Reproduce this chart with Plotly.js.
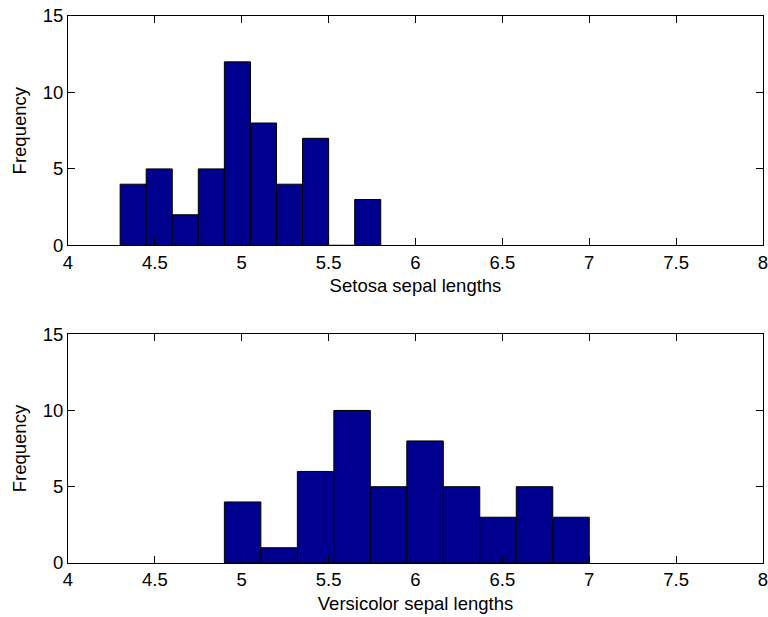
<!DOCTYPE html>
<html>
<head>
<meta charset="utf-8">
<script src="https://cdn.plot.ly/plotly-3.0.1.min.js"></script>
<style>html,body{margin:0;padding:0;background:#fff;}#chart{width:768px;height:617px;}</style>
</head>
<body>
<div id="chart"></div>
<script>
// Setosa histogram (bin centers, width 0.15)
const setosaCenters = [4.375, 4.525, 4.675, 4.825, 4.975, 5.125, 5.275, 5.425, 5.575, 5.725];
const setosaCounts  = [4, 5, 2, 5, 12, 8, 4, 7, 0, 3];
const setosaWidth = 0.15;
// Versicolor histogram (bin centers, width 0.21)
const versiCenters = [5.005, 5.215, 5.425, 5.635, 5.845, 6.055, 6.265, 6.475, 6.685, 6.895];
const versiCounts  = [4, 1, 6, 10, 5, 8, 5, 3, 5, 3];
const versiWidth = 0.21;

const xTickVals = [4, 4.5, 5, 5.5, 6, 6.5, 7, 7.5, 8];
const xTickText = ['4', '4.5', '5', '5.5', '6', '6.5', '7', '7.5', '8'];
const yTickVals = [0, 5, 10, 15];

const barColor = 'rgb(0,0,143)';
const font = {family: 'Liberation Sans, Arial, Helvetica, sans-serif', size: 18.5, color: '#000'};

const traces = [
  {type: 'bar', x: setosaCenters, y: setosaCounts, width: setosaWidth,
   marker: {color: barColor, line: {color: '#000', width: 1}}, xaxis: 'x', yaxis: 'y', hoverinfo: 'x+y'},
  {type: 'bar', x: versiCenters, y: versiCounts, width: versiWidth,
   marker: {color: barColor, line: {color: '#000', width: 1}}, xaxis: 'x2', yaxis: 'y2', hoverinfo: 'x+y'}
];

function xax(title, anchor) {
  return {
    range: [4, 8], tickvals: xTickVals, ticktext: xTickText,
    ticks: 'inside', ticklen: 7, tickcolor: '#000', tickwidth: 1,
    showline: true, linecolor: '#000', linewidth: 1, mirror: 'ticks',
    showgrid: false, zeroline: false, anchor: anchor,
    ticklabeloverflow: 'allow',
    title: {text: title, font: font, standoff: 7},
    tickfont: font
  };
}
function yax(domain, anchor) {
  return {
    range: [0, 15], tickvals: yTickVals,
    ticks: 'inside', ticklen: 7, tickcolor: '#000', tickwidth: 1,
    showline: true, linecolor: '#000', linewidth: 1, mirror: 'ticks',
    showgrid: false, zeroline: false, domain: domain, anchor: anchor,
    ticklabeloverflow: 'allow',
    title: {text: 'Frequency', font: font, standoff: 11},
    tickfont: font
  };
}

const layout = {
  width: 768, height: 617,
  margin: {l: 68, r: 5, t: 16, b: 54},
  paper_bgcolor: '#fff', plot_bgcolor: '#fff',
  showlegend: false, bargap: 0,
  font: font,
  xaxis: xax('Setosa sepal lengths', 'y'),
  yaxis: yax([0.5807, 1], 'x'),
  xaxis2: xax('Versicolor sepal lengths', 'y2'),
  yaxis2: yax([0, 0.4184], 'x2')
};

Plotly.newPlot('chart', traces, layout, {displayModeBar: false, staticPlot: true});
</script>
</body>
</html>
